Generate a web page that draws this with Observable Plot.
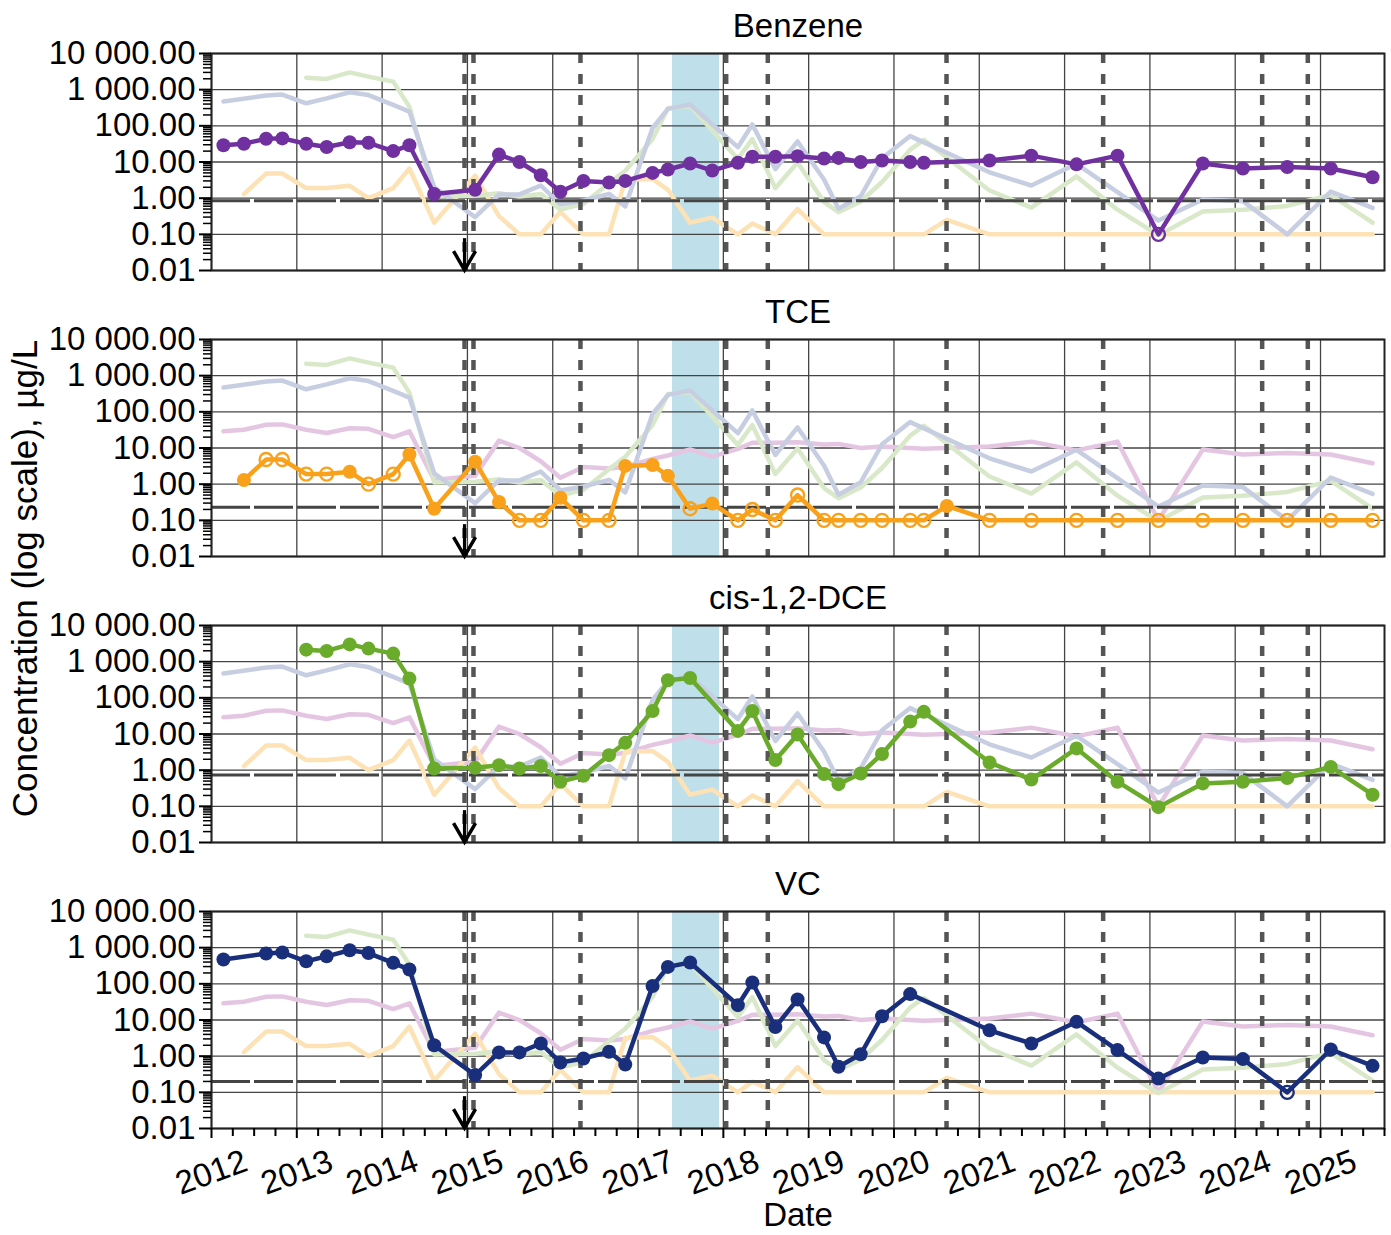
<!DOCTYPE html>
<html><head><meta charset="utf-8">
<script src="https://cdn.jsdelivr.net/npm/d3@7"></script>
<script src="https://cdn.jsdelivr.net/npm/@observablehq/plot@0.6"></script>
<style>
body{margin:0;background:#fff;}
#chart{width:1391px;height:1235px;}
</style></head><body><div id="chart"></div>
<script>
// Panels (facets) and series styling
const panels = ["Benzene", "TCE", "cis-1,2-DCE", "VC"];
const mainColors = ["#7030A0", "#F9A11B", "#6BAB2C", "#1A2F7C"];
const fadedColors = ["#E5C6E2", "#FDE2B6", "#D9E8C9", "#C7CEE2"];
const mclValues = [0.85, 0.23, 0.73, 0.2];

// Event dates (decimal years)
const actionDates = [2014.966, 2015.071, 2016.325, 2018.033, 2018.521, 2020.616, 2022.452, 2024.316, 2024.851];
const bandStart = 2017.404, bandEnd = 2017.956;
const arrowDate = 2014.966;
const arrowTop = 0.076, arrowTip = 0.0103;

// Tick values
const yTicks = [0.01, 0.1, 1, 10, 100, 1000, 10000];
const xYears = [2012, 2013, 2014, 2015, 2016, 2017, 2018, 2019, 2020, 2021, 2022, 2023, 2024, 2025];

// Series: [date, value, nonDetect]
const benzene = [[2012.14,29],[2012.38,32],[2012.64,44],[2012.83,45],[2013.11,32],[2013.35,26],[2013.62,35],[2013.84,34],[2014.13,20],[2014.32,29],[2014.61,1.3],[2015.09,1.7],[2015.37,16],[2015.61,10],[2015.86,4.3],[2016.09,1.5],[2016.36,3.0],[2016.66,2.7],[2016.85,3.0],[2017.17,5.0],[2017.35,6.2],[2017.61,9.1],[2017.87,5.8],[2018.17,9.5],[2018.34,14],[2018.61,14],[2018.87,14.5],[2019.18,12.5],[2019.35,13],[2019.61,10],[2019.86,11],[2020.19,10],[2020.35,9.5],[2021.12,11],[2021.61,15],[2022.14,8.6],[2022.62,15],[2023.10,0.1,1],[2023.62,9.1],[2024.09,6.6],[2024.61,7.3],[2025.12,6.6],[2025.61,3.8]];
const tce = [[2012.38,1.3],[2012.64,4.8,1],[2012.83,4.8,1],[2013.11,1.9,1],[2013.35,1.9,1],[2013.62,2.2],[2013.84,1.0,1],[2014.13,1.9,1],[2014.32,6.6],[2014.61,0.21],[2015.09,4.2],[2015.37,0.32],[2015.61,0.1,1],[2015.86,0.1,1],[2016.09,0.42],[2016.36,0.1,1],[2016.66,0.1,1],[2016.85,3.2],[2017.17,3.4],[2017.35,1.7],[2017.61,0.21,1],[2017.87,0.29],[2018.17,0.1,1],[2018.34,0.2,1],[2018.61,0.1,1],[2018.87,0.5,1],[2019.18,0.1,1],[2019.35,0.1,1],[2019.61,0.1,1],[2019.86,0.1,1],[2020.19,0.1,1],[2020.35,0.1,1],[2020.62,0.25],[2021.12,0.1,1],[2021.61,0.1,1],[2022.14,0.1,1],[2022.62,0.1,1],[2023.10,0.1,1],[2023.62,0.1,1],[2024.09,0.1,1],[2024.61,0.1,1],[2025.12,0.1,1],[2025.61,0.1,1]];
const cisDce = [[2013.11,2150],[2013.35,1980],[2013.62,3000],[2013.84,2300],[2014.13,1670],[2014.32,340],[2014.61,1.11],[2015.09,1.16],[2015.37,1.37],[2015.61,1.11],[2015.86,1.31],[2016.09,0.48],[2016.36,0.70],[2016.66,2.6],[2016.85,5.7],[2017.17,43],[2017.35,307],[2017.61,354],[2018.17,12.2],[2018.34,43],[2018.61,1.9],[2018.87,9.7],[2019.18,0.78],[2019.35,0.41],[2019.61,0.81],[2019.86,2.8],[2020.19,22],[2020.35,41],[2021.12,1.63],[2021.61,0.55],[2022.14,4.0],[2022.62,0.48],[2023.10,0.095],[2023.62,0.43],[2024.09,0.48],[2024.61,0.61],[2025.12,1.23],[2025.61,0.21]];
const vc = [[2012.14,470],[2012.64,690],[2012.83,733],[2013.11,420],[2013.35,575],[2013.62,850],[2013.84,710],[2014.13,380],[2014.32,248],[2014.61,2.0],[2015.09,0.30],[2015.37,1.27],[2015.61,1.27],[2015.86,2.24],[2016.09,0.67],[2016.36,0.86],[2016.66,1.32],[2016.85,0.59],[2017.17,87],[2017.35,294],[2017.61,388],[2018.17,25.7],[2018.34,109],[2018.61,6.4],[2018.87,37],[2019.18,3.3],[2019.35,0.51],[2019.61,1.13],[2019.86,12.7],[2020.19,52],[2021.12,5.2],[2021.61,2.24],[2022.14,8.9],[2022.62,1.47],[2023.10,0.24],[2023.62,0.92],[2024.09,0.83],[2024.61,0.1,1],[2025.12,1.53],[2025.61,0.54]];

const seriesList = [benzene, tce, cisDce, vc];

// Build tables
const rows = panels.flatMap((p, i) => seriesList[i].map(([date, value, nd]) => ({series: p, idx: i, date, value, open: !!nd})));
const faded = panels.flatMap(panel => rows.filter(r => r.series !== panel).map(r => ({...r, panel})));
const main = rows.map(r => ({...r, panel: r.series}));
const mclRows = panels.map((p, i) => ({panel: p, mcl: mclValues[i]}));

const minorY = d3.range(-2, 4).flatMap(e => d3.range(2, 10).map(m => +(m * Math.pow(10, e)).toPrecision(3)));
const quarterTicks = d3.range(2012, 2025.76, 0.25).filter(d => d % 1 !== 0);

const locale = d3.formatLocale({decimal: ".", thousands: " ", grouping: [3], currency: ["", ""]});
const yFmt = locale.format(",.2f");

// Chevron symbol for the arrowhead (tip at the origin)
const chevron = {draw(ctx) { ctx.moveTo(-11, -19); ctx.lineTo(0, 0); ctx.lineTo(11, -19); }};

const chart = Plot.plot({
  width: 1391,
  height: 1235,
  marginLeft: 211,
  marginRight: 7,
  marginTop: 52,
  marginBottom: 106,
  style: {fontFamily: "'Liberation Sans', Arial, sans-serif", fontSize: "33px", color: "black", background: "white"},
  x: {domain: [2012, 2025.75], axis: null},
  y: {type: "log", domain: [0.01, 10000], axis: null},
  fy: {domain: panels, paddingInner: 0.243, paddingOuter: 0, axis: null, label: null},
  color: {type: "identity"},
  marks: [
    Plot.rect([{x1: bandStart, x2: bandEnd}], {x1: "x1", x2: "x2", fill: "#BFE0EA"}),
    Plot.gridY({ticks: yTicks, stroke: "#444", strokeOpacity: 1, strokeWidth: 1.3}),
    Plot.gridX({ticks: xYears, stroke: "#444", strokeOpacity: 1, strokeWidth: 1.3}),
    Plot.line(faded, {x: "date", y: "value", z: "series", fy: "panel", stroke: d => fadedColors[d.idx], strokeWidth: 4.5, strokeLinejoin: "round"}),
    Plot.ruleX(actionDates, {stroke: "#555", strokeWidth: 4.5, strokeDasharray: "10,11"}),
    Plot.ruleY(mclRows, {y: "mcl", fy: "panel", stroke: "#444", strokeWidth: 3, strokeDasharray: "39,4"}),
    Plot.frame({stroke: "#222", strokeWidth: 2}),
    Plot.ruleX([{x: arrowDate, y1: arrowTop, y2: arrowTip}], {x: "x", y1: "y1", y2: "y2", stroke: "black", strokeWidth: 3.2}),
    Plot.dot([{x: arrowDate, y: arrowTip}], {x: "x", y: "y", symbol: chevron, stroke: "black", fill: "none", strokeWidth: 3.5, strokeLinejoin: "miter", r: 10}),
    Plot.line(main, {x: "date", y: "value", fy: "panel", stroke: d => mainColors[d.idx], strokeWidth: 4.5, strokeLinejoin: "round"}),
    Plot.dot(main.filter(d => !d.open), {x: "date", y: "value", fy: "panel", fill: d => mainColors[d.idx], r: 7}),
    Plot.dot(main.filter(d => d.open), {x: "date", y: "value", fy: "panel", stroke: d => mainColors[d.idx], fill: "none", r: 6.5, strokeWidth: 2.4}),
    Plot.axisY({ticks: yTicks, tickFormat: yFmt, tickSize: 12, tickPadding: 4, strokeWidth: 2, fontSize: 33, label: null, fill: "black", stroke: "black"}),
    Plot.axisY({ticks: minorY, tickSize: 8, strokeWidth: 1.5, fill: "none", stroke: "black", label: null}),
    Plot.axisX({ticks: xYears, tickFormat: "d", tickSize: 10, tickPadding: 34, tickRotate: -20, textAnchor: "middle", lineAnchor: "middle", strokeWidth: 2, fontSize: 33, label: null, fill: "black", stroke: "black"}),
    Plot.axisX({ticks: quarterTicks, tickSize: 8, strokeWidth: 2, fill: "none", stroke: "black", label: null}),
    Plot.text(panels, {fy: d => d, text: d => d, frameAnchor: "top", lineAnchor: "bottom", dy: -17, fontSize: 33, fill: "black"}),
    Plot.text(["TCE"], {fy: d => d, text: () => "Concentration (log scale), µg/L", frameAnchor: "bottom-left", rotate: -90, dx: -186, dy: 22, fontSize: 35, textAnchor: "middle", lineAnchor: "middle", fill: "black"}),
    Plot.text(["VC"], {fy: d => d, text: () => "Date", frameAnchor: "bottom", dy: 87, lineAnchor: "middle", fontSize: 33, fill: "black"})
  ]
});
document.getElementById("chart").appendChild(chart);
</script></body></html>
